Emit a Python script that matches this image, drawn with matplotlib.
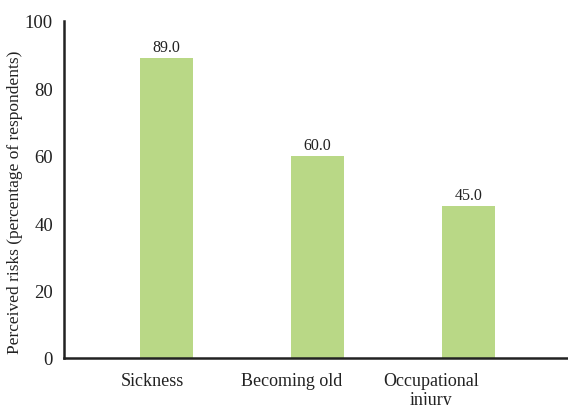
import matplotlib
matplotlib.use("Agg")
import matplotlib.pyplot as plt
import numpy as np

categories = ["Sickness", "Becoming old", "Occupational\ninjury"]
values = [89.0, 60.0, 45.0]
yticks = [0, 20, 40, 60, 80, 100]

plt.rcParams['font.family'] = ['Liberation Serif', 'DejaVu Serif']

fig = plt.figure(figsize=(5.68, 4.06), dpi=100)
ax = fig.add_axes([64/568, (406-359)/406, (568-64)/568, (359-22)/406])

x = np.arange(len(categories))
bars = ax.bar(x, values, width=0.35, color="#B9D886", zorder=2)
for xi, v in zip(x, values):
    ax.text(xi, v + 0.9, f"{v:.1f}", ha="center", va="bottom", fontsize=11.5, color="#222222")

ax.set_xlim(-0.677, 2.66)
ax.set_ylim(0, 100)
ax.set_yticks(yticks)
ax.set_yticklabels([str(t) for t in yticks], fontsize=13.5, color="#222222")
# category labels sit slightly left of the bar centres in the reference
label_shift = np.array([-0.089, -0.172, -0.248])
ax.set_xticks(x + label_shift)
ax.set_xticklabels(categories, fontsize=13, color="#222222", linespacing=1.2)
ax.tick_params(axis='both', length=0)
ax.tick_params(axis='y', pad=8)
ax.tick_params(axis='x', pad=10)
ax.set_ylabel("Perceived risks (percentage of respondents)", fontsize=12.5, color="#222222")
ax.yaxis.set_label_coords(-0.082, 0.465)

for s in ["top", "right"]:
    ax.spines[s].set_visible(False)
for s in ["left", "bottom"]:
    ax.spines[s].set_linewidth(1.8)
    ax.spines[s].set_color("#222222")

fig.savefig("out.png", dpi=100)
